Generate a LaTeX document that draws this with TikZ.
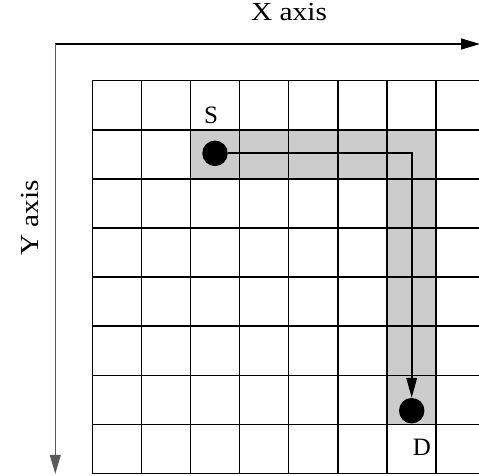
\documentclass[tikz,border=0pt]{standalone}
\usepackage{fontspec}
\setmainfont{Liberation Serif}
\usetikzlibrary{arrows.meta}
\begin{document}
\begin{tikzpicture}[x=1pt,y=-1pt,
  gridline/.style={line width=1.5pt,black},
  shade/.style={fill=black!20,draw=none},
  dot/.style={circle,fill=black,inner sep=0pt,minimum size=25.5pt},
  lbl/.style={font=\fontsize{25}{29}\selectfont,inner sep=0pt},
  axlbl/.style={font=\fontsize{26}{30}\selectfont,inner sep=0pt},
  axis/.style={line width=1.1pt,-{Triangle[length=19pt,width=11pt]}},
  route/.style={line width=2pt,-{Triangle[length=20pt,width=10.5pt]}}]
\useasboundingbox (0,0) rectangle (479,475);
\clip (0,0) rectangle (479,475);
% shaded route cells
\fill[shade] (191,130) rectangle (436.3,179.1);
\fill[shade] (387.3,130) rectangle (436.3,424.7);
% grid
\foreach \i in {0,...,8}{
  \draw[gridline] ({92.3+49.1*\i},80.7) -- ({92.3+49.1*\i},473.5);
  \draw[gridline] (92.3,{80.7+49.1*\i}) -- (485.1,{80.7+49.1*\i});
}
% axes
\coordinate (o) at (55.3,44);
\coordinate (xe) at (480,44);
\coordinate (ye) at (55.3,473.8);
\draw[axis] (o) -- (xe);
\draw[axis,black!65] (o) -- (ye);
\node[axlbl] (xl) at (289,12) {\scalebox{1.13}[1]{X axis}};
\node[axlbl,rotate=90] (yl) at (30,218) {\scalebox{1.13}[1]{Y axis}};
% source and destination
\node[dot] (s) at (215,153.3) {};
\node[dot] (d) at (411.7,410.7) {};
\coordinate (c) at (411.7,153.3);
\draw[route] (s) -- (c) -- (d);
\node[lbl] (sl) at (211,115.5) {S};
\node[lbl] (dl) at (422,447) {D};
\end{tikzpicture}
\end{document}
